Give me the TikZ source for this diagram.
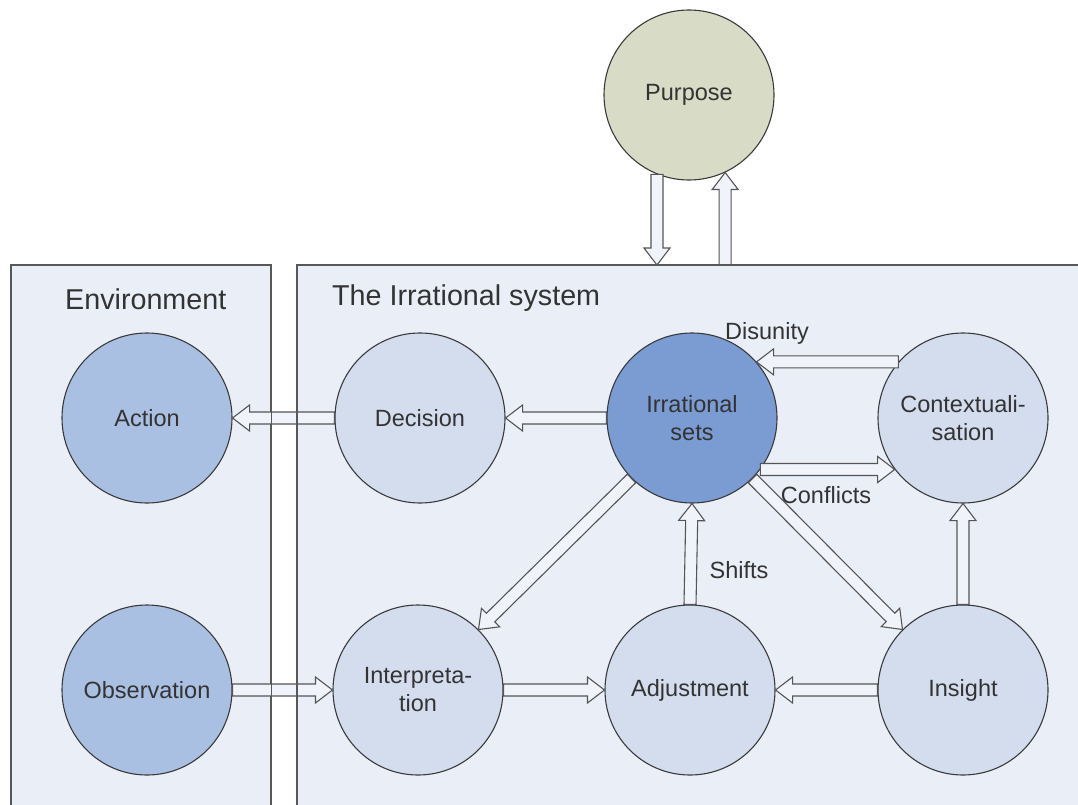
\documentclass[tikz,border=0pt]{standalone}
\usepackage{fontspec}
\setmainfont{Liberation Sans}
\usetikzlibrary{calc}

\definecolor{panelfill}{HTML}{E9EEF7}
\definecolor{panelline}{HTML}{585858}
\definecolor{lightnode}{HTML}{D3DDEE}
\definecolor{midnode}{HTML}{AAC0E2}
\definecolor{darknode}{HTML}{7B9BD3}
\definecolor{purposefill}{HTML}{D8DBC6}
\definecolor{nodeline}{HTML}{3A3A3A}
\definecolor{arrowfill}{HTML}{F0F3FA}
\definecolor{arrowline}{HTML}{555555}
\definecolor{textcol}{HTML}{333333}

\tikzset{
  panel/.style={draw=panelline, line width=1.4pt, fill=panelfill, inner sep=0pt, anchor=north west},
  paneltitle/.style={anchor=west, inner sep=0pt, text=textcol, font=\fontsize{28.7}{34}\selectfont},
  bubble/.style={circle, draw=nodeline, line width=1.1pt, minimum size=170pt, inner sep=0pt,
    align=center, text=textcol, font=\fontsize{23.5}{28}\selectfont},
  lightbubble/.style={bubble, fill=lightnode},
  midbubble/.style={bubble, fill=midnode},
  darkbubble/.style={bubble, fill=darknode},
  purposebubble/.style={bubble, fill=purposefill},
  edgelabel/.style={inner sep=0pt, text=textcol, font=\fontsize{23.5}{28}\selectfont},
  % hollow block arrow from the start point to the end point
  blockarrow/.style={draw=arrowline, line width=1.1pt, fill=arrowfill, line join=miter,
    to path={
      let \p1=(\tikztostart), \p2=(\tikztotarget),
          \n1={atan2(\y2-\y1,\x2-\x1)}, \n2={veclen(\x2-\x1,\y2-\y1)} in
      [shift={(\p1)}, rotate=\n1]
      (0pt,-6pt) -- ({\n2*1pt-17pt},-6pt) -- ({\n2*1pt-17pt},-13pt) -- ({\n2*1pt},0pt)
      -- ({\n2*1pt-17pt},13pt) -- ({\n2*1pt-17pt},6pt) -- (0pt,6pt) -- cycle
    }},
}

\begin{document}
\begin{tikzpicture}[x=1pt, y=-1pt]
  \useasboundingbox (0,0) rectangle (1078,805);

  % the two panels
  \node[panel, minimum width=259pt, minimum height=580pt] (env) at (11,265) {};
  \node[panel, minimum width=810pt, minimum height=580pt] (sys) at (297,265) {};
  \node[paneltitle] (envtitle) at (65,299) {Environment};
  \node[paneltitle] (systitle) at (332,298) {The Irrational system};

  % bubbles
  \node[purposebubble] (pur) at (689,95) {Purpose};
  \node[midbubble] (act) at (147,418) {Action};
  \node[midbubble] (obs) at (147,690) {Observation};
  \node[lightbubble] (dec) at (420,418) {Decision};
  \node[darkbubble] (irr) at (692,418) {Irrational\\sets};
  \node[lightbubble] (ctx) at (963,418) {Contextuali-\\sation};
  \node[lightbubble] (int) at (418,690) {Interpreta-\\tion};
  \node[lightbubble] (adj) at (690,690) {Adjustment};
  \node[lightbubble] (ins) at (963,690) {Insight};

  % connectors
  \draw[blockarrow] (pur.248) to (pur.248 |- sys.north);
  \draw[blockarrow] (pur.295 |- sys.north) to (pur.295);
  \draw[blockarrow] (dec.west) to (act.east);
  \draw[blockarrow] (irr.west) to (dec.east);
  \draw[blockarrow] (ctx.139) to (irr.41);
  \draw[blockarrow] (irr.-37) to (ctx.217);
  \draw[blockarrow] (irr.225) to (int.45);
  \draw[blockarrow] (irr.-45) to (ins.135);
  \draw[blockarrow] (adj.north) to (irr.south);
  \draw[blockarrow] (ins.north) to (ctx.south);
  \draw[blockarrow] (obs.east) to (int.west);
  \draw[blockarrow] (int.east) to (adj.west);
  \draw[blockarrow] (ins.west) to (adj.east);

  % panel borders stay visible over the arrows that cross them
  \draw[panelline, line width=1.4pt] (env.north west) rectangle (env.south east);
  \draw[panelline, line width=1.4pt] (sys.north west) rectangle (sys.south east);

  % connector labels
  \node[edgelabel] (ldis) at (767,333) {Disunity};
  \node[edgelabel] (lcon) at (826,495) {Conflicts};
  \node[edgelabel] (lshi) at (739,570) {Shifts};
\end{tikzpicture}
\end{document}
